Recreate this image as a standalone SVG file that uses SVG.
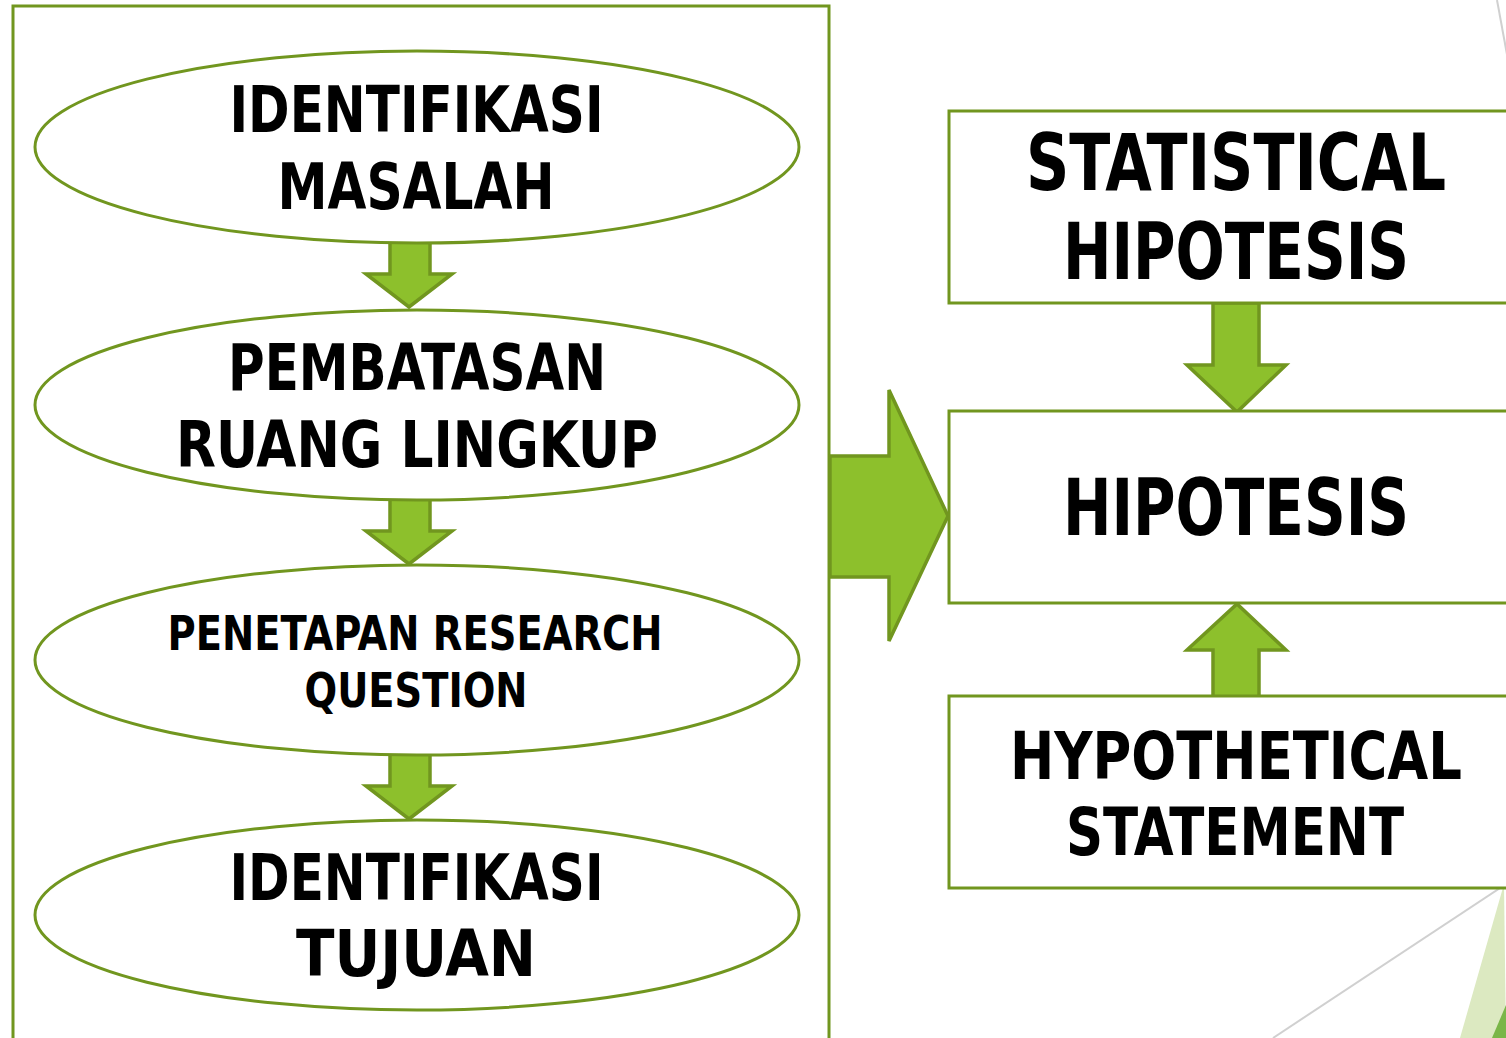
<svg xmlns="http://www.w3.org/2000/svg" width="1506" height="1038" viewBox="0 0 1506 1038">
<style>
.frame{fill:none;stroke:#71961f;stroke-width:3}
.node{fill:#fff;stroke:#71961f;stroke-width:3}
.arrow{fill:#8dc02c;stroke:#71961f;stroke-width:3.5;stroke-linejoin:miter}
.t{font-family:"DejaVu Sans Condensed","DejaVu Sans",sans-serif;font-weight:bold;fill:#000;text-anchor:middle}
</style>
<rect width="1506" height="1038" fill="#fff"/>
<g id="decor">
<line x1="1497" y1="0" x2="1508" y2="60" stroke="#d0d0d0" stroke-width="2"/>
<line x1="1506" y1="884" x2="1273" y2="1038" stroke="#d0d0d0" stroke-width="2"/>
<polygon points="1504,884 1460,1038 1506,1038" fill="#dce9c1"/>
<polygon points="1492,1038 1506,1005 1506,1038" fill="#7ab648"/>
</g>
<g id="frame-left"><rect class="frame" x="13" y="6" width="816" height="1040"/></g>
<g id="connectors">
<polygon class="arrow" points="390,241 430,241 430,274 452,274 409,307 366,274 390,274"/>
<polygon class="arrow" points="390,498 430,498 430,531 452,531 409,564 366,531 390,531"/>
<polygon class="arrow" points="390,753 430,753 430,786 452,786 409,819 366,786 390,786"/>
<polygon class="arrow" points="830,456 889,456 889,390 948,516 889,641 889,577 830,577"/>
<polygon class="arrow" points="1213,303 1259,303 1259,365 1286,365 1237,412 1187,365 1213,365"/>
<polygon class="arrow" points="1213,697 1259,697 1259,650 1286,650 1237,604 1187,650 1213,650"/>
</g>
<g id="n1"><ellipse class="node" cx="417" cy="147" rx="382" ry="96"/>
<text class="t" x="416.5" y="132" font-size="64" textLength="374" lengthAdjust="spacingAndGlyphs">IDENTIFIKASI</text>
<text class="t" x="416" y="209" font-size="64" textLength="277" lengthAdjust="spacingAndGlyphs">MASALAH</text></g>
<g id="n2"><ellipse class="node" cx="417" cy="405" rx="382" ry="95"/>
<text class="t" x="417" y="390" font-size="64" textLength="378" lengthAdjust="spacingAndGlyphs">PEMBATASAN</text>
<text class="t" x="417" y="467" font-size="64" textLength="482" lengthAdjust="spacingAndGlyphs">RUANG LINGKUP</text></g>
<g id="n3"><ellipse class="node" cx="417" cy="660" rx="382" ry="95"/>
<text class="t" x="415" y="650" font-size="48" textLength="495" lengthAdjust="spacingAndGlyphs">PENETAPAN RESEARCH</text>
<text class="t" x="416" y="707" font-size="48" textLength="223" lengthAdjust="spacingAndGlyphs">QUESTION</text></g>
<g id="n4"><ellipse class="node" cx="417" cy="915" rx="382" ry="95"/>
<text class="t" x="416.5" y="900" font-size="64" textLength="374" lengthAdjust="spacingAndGlyphs">IDENTIFIKASI</text>
<text class="t" x="416" y="976" font-size="64" textLength="240" lengthAdjust="spacingAndGlyphs">TUJUAN</text></g>
<g id="n5"><rect class="node" x="949" y="111" width="600" height="192"/>
<text class="t" x="1236" y="190" font-size="78" textLength="420" lengthAdjust="spacingAndGlyphs">STATISTICAL</text>
<text class="t" x="1236" y="279" font-size="78" textLength="346" lengthAdjust="spacingAndGlyphs">HIPOTESIS</text></g>
<g id="n6"><rect class="node" x="949" y="411" width="600" height="192"/>
<text class="t" x="1236" y="535" font-size="78" textLength="346" lengthAdjust="spacingAndGlyphs">HIPOTESIS</text></g>
<g id="n7"><rect class="node" x="949" y="696" width="600" height="192"/>
<text class="t" x="1236" y="779" font-size="66" textLength="452" lengthAdjust="spacingAndGlyphs">HYPOTHETICAL</text>
<text class="t" x="1235" y="855" font-size="66" textLength="338" lengthAdjust="spacingAndGlyphs">STATEMENT</text></g>
</svg>
